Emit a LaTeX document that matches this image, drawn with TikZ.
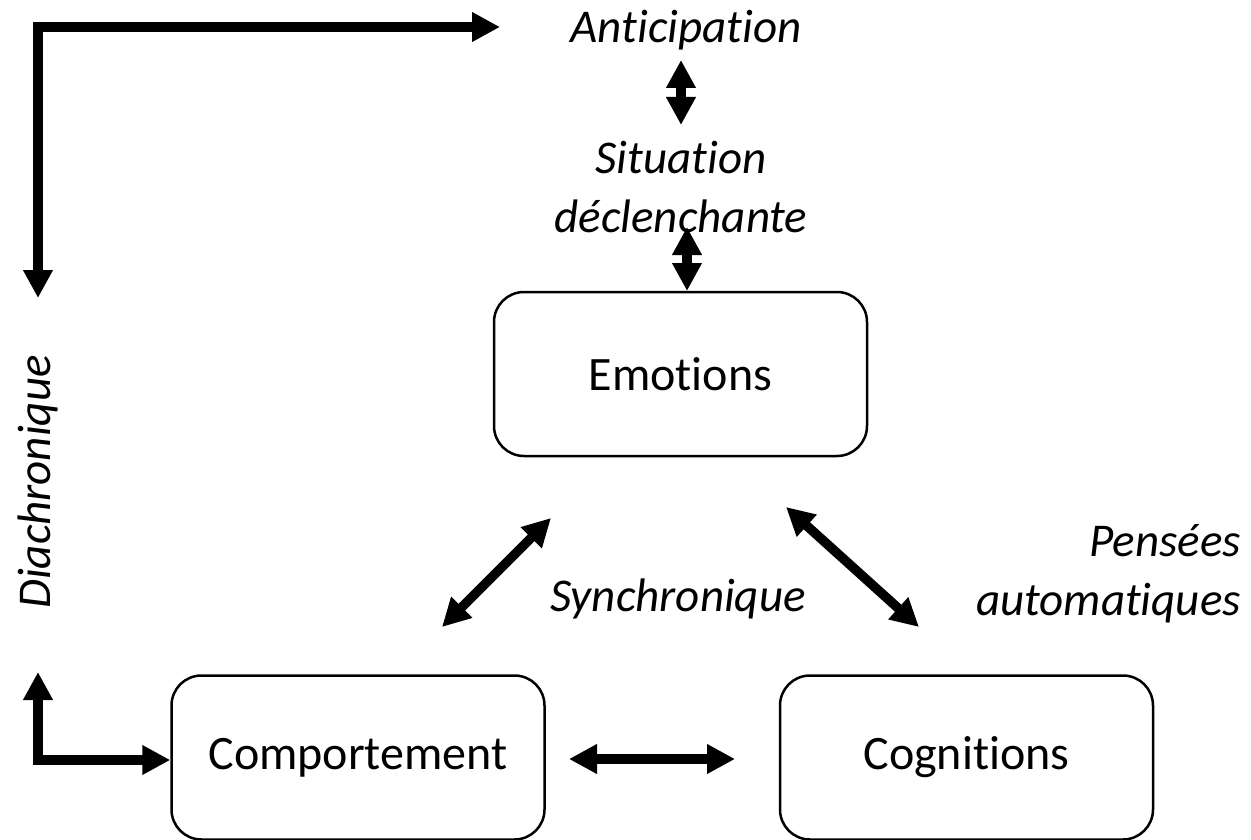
\documentclass[tikz,border=0pt]{standalone}
\usepackage{fontspec}
\setmainfont[Ligatures={NoCommon,NoContextual}]{Carlito}
\usetikzlibrary{arrows.meta}
\tikzset{
  box/.style={draw, line width=2.5pt, rounded corners=30pt, minimum width=373pt, minimum height=164pt, inner sep=0pt, font=\fontsize{48}{56}\selectfont},
  lbl/.style={inner sep=0pt, font=\fontsize{47}{59}\selectfont\itshape},
  tri/.tip={Triangle[width=28pt,length=28pt]},
  fatboth/.style={line width=9.5pt, tri-tri},
}
\begin{document}
\begin{tikzpicture}[x=1pt,y=-1pt]
\useasboundingbox (0,0) rectangle (1251,840);
% boxes
\node[box] (emo) at (680.5,374) {Emotions};
\node[box] (comp) at (358,757.5) {Comportement};
\node[box] (cog) at (966.5,757.5) {Cognitions};
% labels
\node[lbl] (ant) at (686,30) {Anticipation};
\node[lbl, align=center] (sit) at (681,187) {Situation\\déclenchante};
\node[lbl] (syn) at (678,599) {Synchronique};
\node[lbl, align=right, anchor=east] (pen) at (1241,574) {Pensées\\automatiques};
\node[lbl, rotate=90] (dia) at (38,482) {Diachronique};
% coordinates for arrow ends
\coordinate (a1) at (681,60);
\coordinate (a2) at (681,125);
\coordinate (b1) at (687,227);
\coordinate (b2) at (687,291);
\coordinate (c1) at (442,627);
\coordinate (c2) at (551,518);
\coordinate (d1) at (786,507);
\coordinate (d2) at (919,627);
\coordinate (e1) at (569,759);
\coordinate (e2) at (735,759);
\coordinate (tl1) at (38,298);
\coordinate (tl2) at (500,27);
\coordinate (bl1) at (38,672);
\coordinate (bl2) at (comp.west |- 0,760);
% arrows
\draw[fatboth] (a1) -- (a2);
\draw[fatboth] (b1) -- (b2);
\draw[fatboth] (c1) -- (c2);
\draw[fatboth] (d1) -- (d2);
\draw[fatboth] (e1) -- (e2);
\draw[fatboth] (tl1) |- (tl2);
\draw[fatboth] (bl1) |- (bl2);
\end{tikzpicture}
\end{document}
